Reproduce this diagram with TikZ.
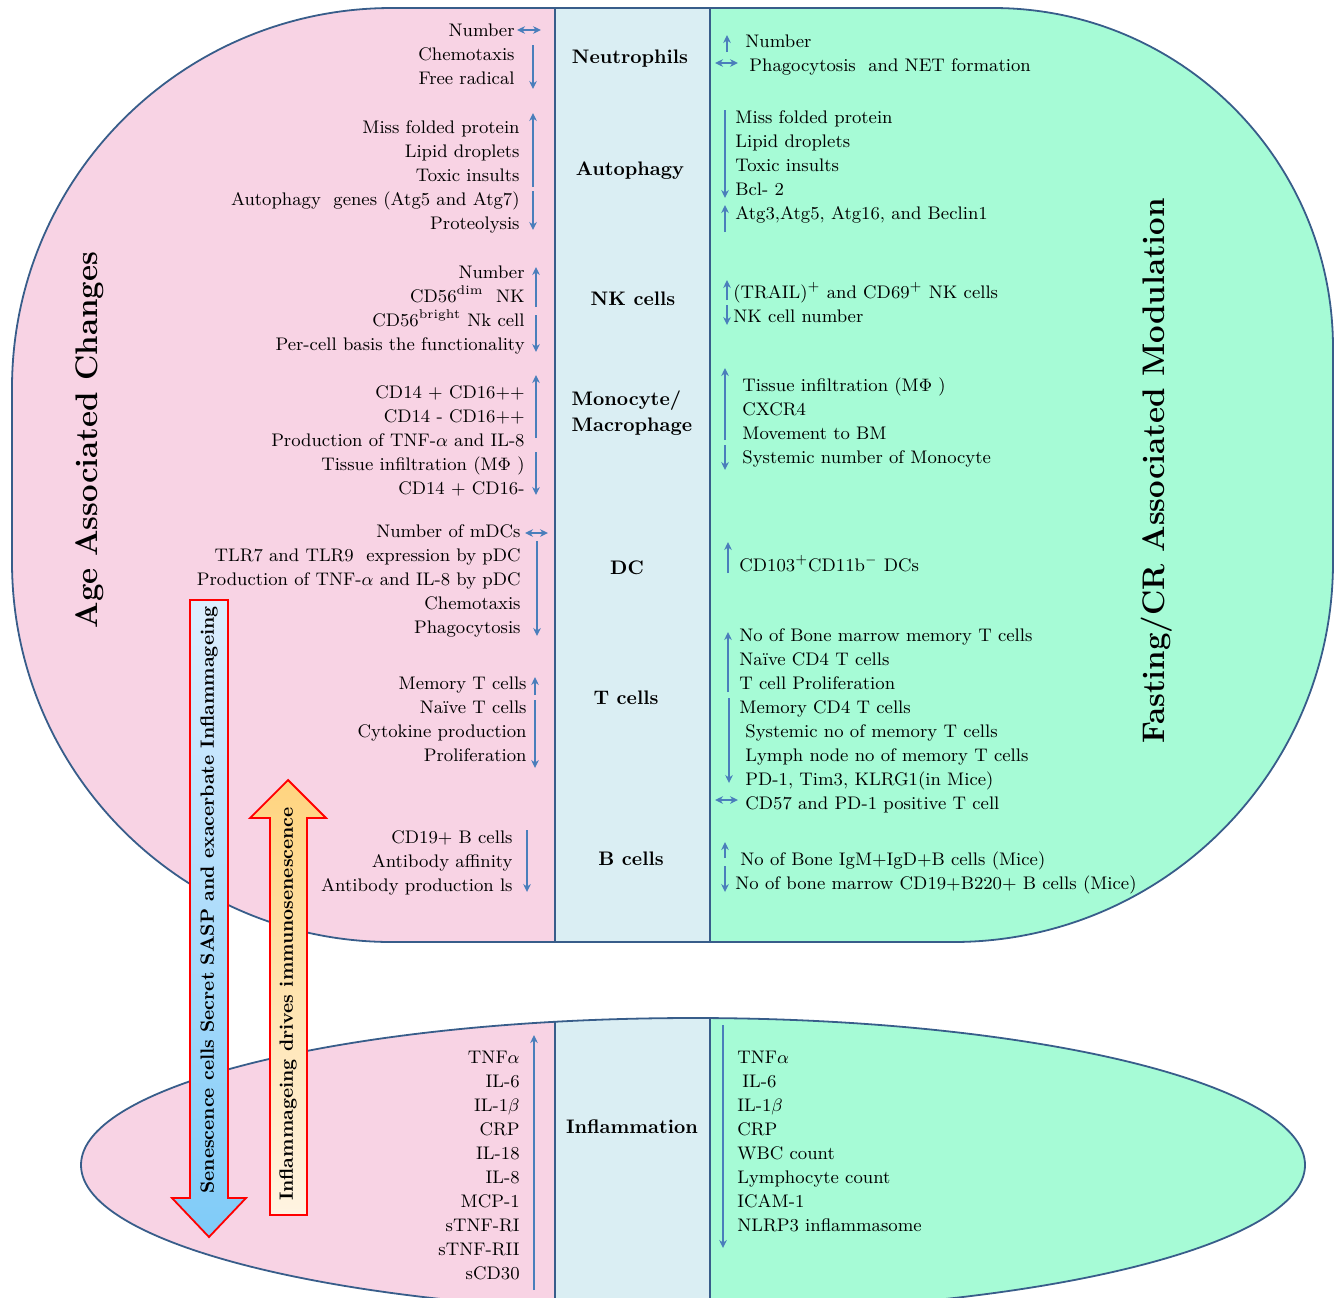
\documentclass[tikz,border=0pt]{standalone}
\usetikzlibrary{arrows.meta}
\definecolor{agepink}{HTML}{F8D3E4}
\definecolor{crgreen}{HTML}{A6FBD6}
\definecolor{colblue}{HTML}{DAEEF3}
\definecolor{edgeblue}{HTML}{385D8A}
\definecolor{tickblue}{HTML}{4A7EBB}
\definecolor{saspTop}{HTML}{DCEEFE}
\definecolor{saspBot}{HTML}{7FCBF8}
\definecolor{immTop}{HTML}{FFD47F}
\definecolor{immBot}{HTML}{FFF4E2}

\begin{document}
\begin{tikzpicture}[
      x=0.5pt, y=-0.5pt,
      every node/.style={font=\fontsize{9.1}{12}\selectfont, inner sep=0pt},
      lcol/.style={align=right, anchor=north east},
      rcol/.style={align=left, anchor=north west},
      cellhead/.style={font=\fontsize{9.8}{13}\selectfont\bfseries},
      sidetitle/.style={font=\fontsize{15.6}{19}\selectfont\bfseries, rotate=90},
      arrowtext/.style={font=\fontsize{9.6}{12}\selectfont\bfseries, rotate=90},
      panel/.style={draw=edgeblue, line width=0.9pt},
      ind/.style={draw=tickblue, line width=0.85pt, -{Stealth[length=4pt,width=3.8pt]}},
      twoway/.style={draw=tickblue, line width=0.85pt, {Stealth[length=4pt,width=3.8pt]}-{Stealth[length=4pt,width=3.8pt]}},
      bigarrow/.style={draw=red, line width=0.9pt, line join=miter},
    ]
    \useasboundingbox (0,0) rectangle (1337,1297);
    \clip (0,0) rectangle (1337,1297);

    % upper panel
    \def\upperpanel{(700,8) -- (392,8) arc[start angle=90, end angle=180, radius=190pt]
      -- (12,562) arc[start angle=180, end angle=270, radius=190pt]
      -- (953,942) arc[start angle=270, end angle=360, radius=190pt]
      -- (1333,348) arc[start angle=0, end angle=90, radius=170pt] -- cycle}
    \begin{scope}
      \clip \upperpanel;
      \fill[crgreen] (12,8) rectangle (1333,942);
      \fill[agepink] (12,8) rectangle (555,942);
      \fill[colblue] (555,8) rectangle (710,942);
    \end{scope}
    \draw[panel] \upperpanel;
    \draw[panel] (555,8) -- (555,942) (710,8) -- (710,942);

    % lower panel
    \begin{scope}
      \clip (693,1165) ellipse [x radius=612, y radius=147];
      \fill[crgreen] (0,1000) rectangle (1337,1320);
      \fill[agepink] (0,1000) rectangle (555,1320);
      \fill[colblue] (555,1000) rectangle (710,1320);
      \draw[panel] (555,1000) -- (555,1320) (710,1000) -- (710,1320);
    \end{scope}
    \draw[panel] (693,1165) ellipse [x radius=612, y radius=147];

    % side titles
    \node[sidetitle] (agetitle) at (90,440) {Age Associated Changes};
    \node[sidetitle] (crtitle) at (1157,471) {Fasting/CR Associated Modulation};

    % middle column
    \node[cellhead] (neu) at (630,59) {Neutrophils};
    \node[cellhead] (aut) at (630,171) {Autophagy};
    \node[cellhead] (nk) at (633,299) {NK cells};
    \node[cellhead, align=left] (mono) at (632,413) {Monocyte/\\Macrophage};
    \node[cellhead] (dc) at (627,568) {DC};
    \node[cellhead] (tc) at (626,698) {T cells};
    \node[cellhead] (bc) at (631,859) {B cells};
    \node[cellhead] (infl) at (632,1127) {Inflammation};

    % age side
    \node[lcol] (neuL) at (515,23) {Number\\Chemotaxis\\Free radical};
    \node[lcol] (autL) at (520,120) {Miss folded protein\\Lipid droplets\\Toxic insults\\Autophagy\ \ genes (Atg5 and Atg7)\\Proteolysis};
    \node[lcol] (nkL) at (525,265) {Number\\CD56\textsuperscript{dim}\ \ NK\\CD56\textsuperscript{bright} Nk cell\\Per-cell basis the functionality};
    \node[lcol] (monoL) at (525,385) {CD14 + CD16++\\CD14 - CD16++\\Production of TNF-$\alpha$ and IL-8\\Tissue infiltration (M$\Phi$ )\\CD14 + CD16-};
    \node[lcol] (dcL) at (521,524) {Number of mDCs\\TLR7 and TLR9\ \ expression by pDC\\Production of TNF-$\alpha$ and IL-8 by pDC\\Chemotaxis\\Phagocytosis};
    \node[lcol] (tcL) at (527,676) {Memory T cells\\Naïve T cells\\Cytokine production\\Proliferation};
    \node[lcol] (bcL) at (513,830) {CD19+ B cells\\Antibody affinity\\Antibody production ls};
    \node[lcol] (inflL) at (520,1051) {TNF$\alpha$\\IL-6\\IL-1$\beta$\\CRP\\IL-18\\IL-8\\MCP-1\\sTNF-RI\\sTNF-RII\\sCD30};

    % fasting/CR side
    \node[rcol] (neuR) at (745,34) {Number\\\hspace{2pt}Phagocytosis\ \ and NET formation};
    \node[rcol] (autR) at (735,110) {Miss folded protein\\Lipid droplets\\Toxic insults\\Bcl- 2\\Atg3,Atg5, Atg16, and Beclin1};
    \node[rcol] (nkR) at (733,282) {(TRAIL)\textsuperscript{+} and CD69\textsuperscript{+} NK cells\\NK cell number};
    \node[rcol] (monoR) at (742,377) {Tissue infiltration (M$\Phi$ )\\CXCR4\\Movement to BM\\Systemic number of Monocyte};
    \node[rcol] (dcR) at (739,555) {CD103\textsuperscript{+}CD11b\textsuperscript{$-$} DCs};
    \node[rcol] (tcR) at (739,628) {No of Bone marrow memory T cells\\Naïve CD4 T cells\\T cell Proliferation\\Memory CD4 T cells\\\hspace{3pt}Systemic no of memory T cells\\\hspace{3pt}Lymph node no of memory T cells\\\hspace{3pt}PD-1, Tim3, KLRG1(in Mice)\\\hspace{3pt}CD57 and PD-1 positive T cell};
    \node[rcol] (bcR) at (735,851) {\hspace{2.5pt}No of Bone IgM+IgD+B cells (Mice)\\No of bone marrow CD19+B220+ B cells (Mice)};
    \node[rcol] (inflR) at (737,1051) {TNF$\alpha$\\\hspace{2.5pt}IL-6\\IL-1$\beta$\\CRP\\WBC count\\Lymphocyte count\\ICAM-1\\NLRP3 inflammasome};

    % up / down marks, age side
    \draw[twoway] (517,30) -- (541,30);
    \draw[ind] (533,45) -- (533,89);
    \draw[ind] (533,187) -- (533,113);
    \draw[ind] (533,191) -- (533,230);
    \draw[ind] (536,307) -- (536,267);
    \draw[ind] (536,315) -- (536,352);
    \draw[ind] (536,438) -- (536,375);
    \draw[ind] (536,452) -- (536,495);
    \draw[twoway] (525,533) -- (548,533);
    \draw[ind] (537,541) -- (537,636);
    \draw[ind] (535,695) -- (535,677);
    \draw[ind] (535,700) -- (535,768);
    \draw[ind] (527,830) -- (527,892);
    \draw[ind] (534,1290) -- (534,1035);

    % up / down marks, fasting/CR side
    \draw[ind] (727,52) -- (727,35);
    \draw[twoway] (715,63) -- (738,63);
    \draw[ind] (725,110) -- (725,198);
    \draw[ind] (725,232) -- (725,205);
    \draw[ind] (727,300) -- (727,280);
    \draw[ind] (727,305) -- (727,325);
    \draw[ind] (725,440) -- (725,368);
    \draw[ind] (725,445) -- (725,470);
    \draw[ind] (728,573) -- (728,542);
    \draw[ind] (728,692) -- (728,632);
    \draw[ind] (729,698) -- (729,783);
    \draw[twoway] (715,800) -- (738,800);
    \draw[ind] (725,858) -- (725,842);
    \draw[ind] (725,866) -- (725,892);
    \draw[ind] (723,1025) -- (723,1248);

    % big arrows
    \draw[bigarrow, top color=saspTop, bottom color=saspBot]
      (190,600) -- (228,600) -- (228,1198) -- (246,1198) -- (209,1237)
      -- (172,1198) -- (190,1198) -- cycle;
    \node[arrowtext] (sasp) at (209,900) {Senescence cells Secret SASP and exacerbate Inflammageing};
    \draw[bigarrow, top color=immTop, bottom color=immBot]
      (270,1215) -- (307,1215) -- (307,818) -- (326,818) -- (288,780)
      -- (250,818) -- (270,818) -- cycle;
    \node[arrowtext] (immsen) at (288,1004) {Inflammageing drives immunosenescence};
  \end{tikzpicture}
\end{document}
